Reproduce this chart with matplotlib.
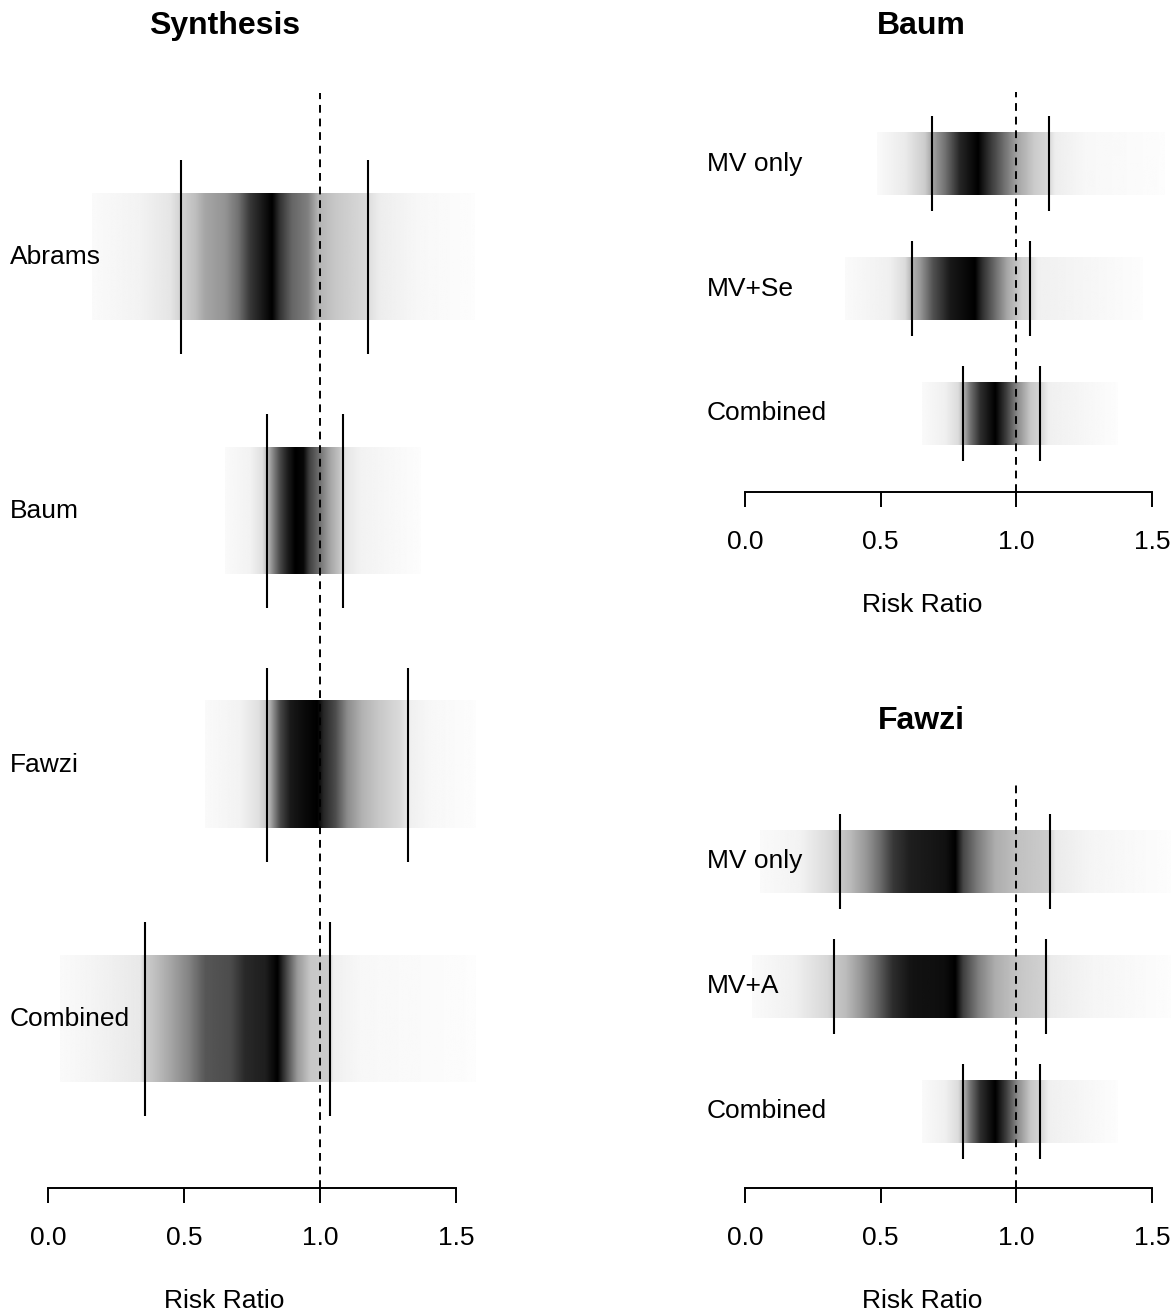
import numpy as np
import matplotlib.pyplot as plt
from matplotlib.transforms import blended_transform_factory

plt.rcParams['font.family'] = ['Liberation Sans', 'DejaVu Sans']

# ---- data: labels, interval limits and the shading profile of each strip ----
# shading profile = (risk ratio, darkness 0..1) pairs read off the strips

synth_labels = ["Abrams", "Baum", "Fawzi", "Combined"]
synth_lo = [0.489, 0.805, 0.805, 0.357]
synth_hi = [1.176, 1.085, 1.324, 1.037]
synth_rr = [
    [0.162, 0.338, 0.449, 0.489, 0.540, 0.577, 0.651, 0.699, 0.743, 0.787, 0.824,
     0.853, 0.897, 0.956, 0.993, 1.055, 1.165, 1.221, 1.368, 1.570],
    [0.651, 0.743, 0.787, 0.805, 0.824, 0.853, 0.879, 0.908, 0.938, 0.960, 0.993,
     1.037, 1.074, 1.092, 1.147, 1.368],
    [0.577, 0.706, 0.772, 0.805, 0.827, 0.853, 0.890, 0.945, 0.989, 1.011, 1.055,
     1.099, 1.154, 1.213, 1.294, 1.331, 1.404, 1.570],
    [0.044, 0.191, 0.338, 0.357, 0.393, 0.449, 0.515, 0.577, 0.669, 0.724, 0.798,
     0.842, 0.871, 0.915, 0.963, 1.029, 1.048, 1.147, 1.570],
]
synth_shade = [
    [0.02, 0.05, 0.10, 0.18, 0.25, 0.35, 0.42, 0.55, 0.78, 0.90, 1.00,
     0.80, 0.60, 0.50, 0.30, 0.22, 0.15, 0.07, 0.03, 0.01],
    [0.02, 0.05, 0.12, 0.25, 0.45, 0.72, 0.88, 1.00, 0.97, 0.75, 0.58,
     0.35, 0.22, 0.10, 0.05, 0.01],
    [0.02, 0.05, 0.12, 0.22, 0.45, 0.72, 0.90, 0.96, 1.00, 0.85, 0.70,
     0.45, 0.30, 0.22, 0.14, 0.06, 0.03, 0.01],
    [0.02, 0.05, 0.09, 0.20, 0.25, 0.35, 0.48, 0.66, 0.70, 0.84, 0.88,
     1.00, 0.75, 0.40, 0.22, 0.20, 0.06, 0.03, 0.01],
]

baum_labels = ["MV only", "MV+Se", "Combined"]
baum_lo = [0.689, 0.616, 0.804]
baum_hi = [1.121, 1.050, 1.087]
baum_rr = [
    [0.487, 0.590, 0.663, 0.689, 0.737, 0.792, 0.859, 0.896, 0.951, 1.006, 1.069,
     1.121, 1.143, 1.253, 1.548],
    [0.369, 0.534, 0.590, 0.616, 0.645, 0.693, 0.756, 0.848, 0.874, 0.921, 0.966,
     1.021, 1.050, 1.080, 1.467],
    [0.652, 0.737, 0.785, 0.804, 0.829, 0.866, 0.921, 0.962, 1.003, 1.050, 1.087,
     1.117, 1.371],
]
baum_shade = [
    [0.02, 0.08, 0.20, 0.35, 0.55, 0.85, 1.00, 0.82, 0.58, 0.35, 0.20,
     0.15, 0.07, 0.03, 0.01],
    [0.02, 0.06, 0.14, 0.30, 0.40, 0.68, 0.90, 1.00, 0.82, 0.58, 0.35,
     0.18, 0.15, 0.06, 0.01],
    [0.02, 0.06, 0.14, 0.30, 0.55, 0.82, 1.00, 0.75, 0.45, 0.22, 0.16,
     0.06, 0.01],
]

fawzi_labels = ["MV only", "MV+A", "Combined"]
fawzi_lo = [0.350, 0.328, 0.804]
fawzi_hi = [1.124, 1.110, 1.087]
fawzi_rr = [
    [0.055, 0.203, 0.313, 0.350, 0.387, 0.442, 0.490, 0.545, 0.608, 0.737, 0.774,
     0.803, 0.859, 0.921, 1.014, 1.117, 1.143, 1.272, 1.567],
    [0.026, 0.184, 0.306, 0.328, 0.369, 0.424, 0.479, 0.542, 0.608, 0.737, 0.774,
     0.803, 0.859, 0.921, 1.014, 1.102, 1.124, 1.272, 1.567],
    [0.652, 0.737, 0.785, 0.804, 0.829, 0.866, 0.921, 0.962, 1.003, 1.050, 1.087,
     1.117, 1.371],
]
fawzi_shade = [
    [0.02, 0.05, 0.15, 0.22, 0.27, 0.40, 0.55, 0.78, 0.88, 0.93, 1.00,
     0.72, 0.50, 0.32, 0.24, 0.20, 0.08, 0.04, 0.01],
    [0.02, 0.06, 0.16, 0.22, 0.26, 0.40, 0.58, 0.82, 0.92, 0.95, 1.00,
     0.75, 0.50, 0.32, 0.22, 0.18, 0.08, 0.04, 0.01],
    [0.02, 0.06, 0.14, 0.30, 0.55, 0.82, 1.00, 0.75, 0.45, 0.22, 0.16,
     0.06, 0.01],
]

ticks = [0.0, 0.5, 1.0, 1.5]
tick_labels = ["0.0", "0.5", "1.0", "1.5"]

W, H = 1173, 1314
fig = plt.figure(figsize=(W / 100, H / 100), dpi=100)


def make_panel(x0, x1, y0, y1, zero_px, unit_px, row0_px, step_px):
    # axes placed in pixel units so the three panels line up like the original
    ax = fig.add_axes([x0 / W, 1 - y1 / H, (x1 - x0) / W, (y1 - y0) / H])
    ax.set_xlim((x0 - zero_px) / unit_px, (x1 - zero_px) / unit_px)
    ax.set_ylim((y1 - row0_px) / step_px, (y0 - row0_px) / step_px)
    return ax


def draw_panel(ax, title, title_x, title_y, labels, lo, hi, rr, shade, label_x, xlab_x):
    trans = blended_transform_factory(ax.transAxes, ax.transData)
    xlim, ylim = ax.get_xlim(), ax.get_ylim()
    for i, lab in enumerate(labels):
        grid = np.linspace(rr[i][0], rr[i][-1], 600)
        dens = np.interp(grid, rr[i], shade[i])
        ax.imshow(dens[None, :], extent=(rr[i][0], rr[i][-1], i + 0.25, i - 0.25),
                  cmap='gray_r', vmin=0, vmax=1, aspect='auto',
                  interpolation='bilinear', zorder=1)
        ax.vlines([lo[i], hi[i]], i - 0.38, i + 0.38, color='black', lw=1.5, zorder=3)
        ax.text(label_x, i, lab, transform=trans, ha='left', va='center', fontsize=19)
    ax.axvline(1.0, color='black', lw=1.4, dashes=(4, 3), zorder=2)
    ax.set_xlim(xlim)
    ax.set_ylim(ylim)

    for s in ['top', 'right', 'left']:
        ax.spines[s].set_visible(False)
    ax.spines['bottom'].set_bounds(0, 1.5)
    ax.spines['bottom'].set_linewidth(1.4)
    ax.set_yticks([])
    ax.set_xticks(ticks)
    ax.set_xticklabels(tick_labels)
    ax.tick_params(axis='x', length=11, width=1.4, labelsize=19, pad=16.5)
    ax.set_xlabel("Risk Ratio", fontsize=19, labelpad=28)
    ax.xaxis.label.set_x(xlab_x)
    ax.patch.set_visible(False)
    fig.text(title_x / W, 1 - title_y / H, title, ha='center', va='center',
             fontsize=23, fontweight='bold')


ax1 = make_panel(0, 480, 93, 1188, 48, 272, 257, 254)
draw_panel(ax1, "Synthesis", 225, 26, synth_labels, synth_lo, synth_hi,
           synth_rr, synth_shade, 10 / 480, 224 / 480)

ax2 = make_panel(700, 1173, 92, 492, 745, 271.3, 163.5, 125)
draw_panel(ax2, "Baum", 921, 26, baum_labels, baum_lo, baum_hi,
           baum_rr, baum_shade, 7 / 473, 222 / 473)

ax3 = make_panel(700, 1173, 785, 1188, 745, 271.3, 861.5, 125)
draw_panel(ax3, "Fawzi", 921, 721, fawzi_labels, fawzi_lo, fawzi_hi,
           fawzi_rr, fawzi_shade, 7 / 473, 222 / 473)

fig.savefig("out.png", dpi=100)
